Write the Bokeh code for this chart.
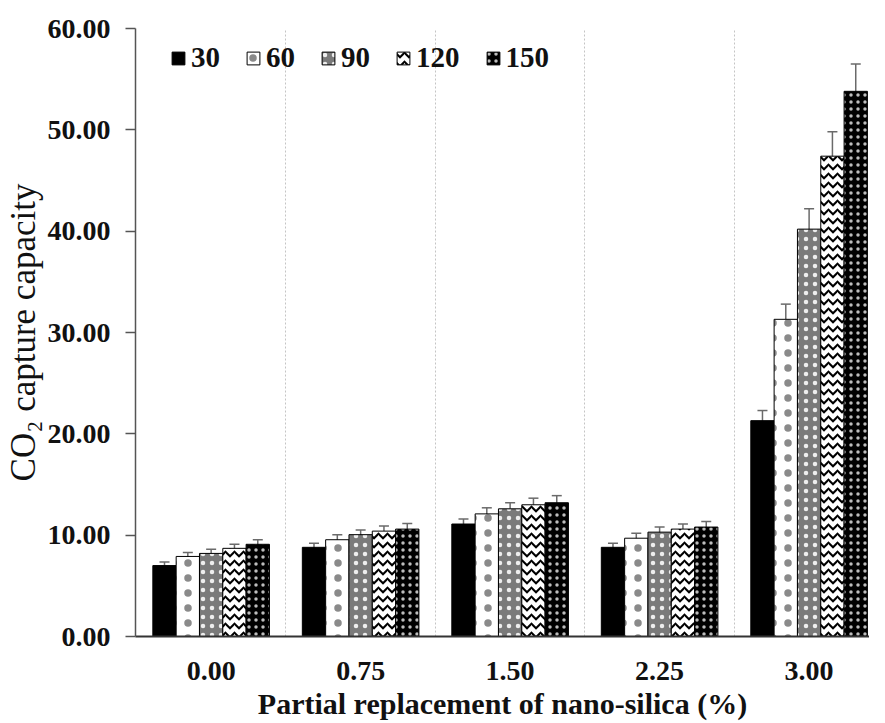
from bokeh.plotting import figure
from bokeh.models import (Range1d, FixedTicker, NumeralTickFormatter, ColumnDataSource,
                          Whisker, Legend, LegendItem, TeeHead)
from bokeh.transform import dodge
from bokeh.embed import file_html
from bokeh.resources import INLINE

# ---- data ----
groups = ["0.00", "0.75", "1.50", "2.25", "3.00"]
series = ["30", "60", "90", "120", "150"]
v30 = [7.0, 8.8, 11.1, 8.8, 21.3]
v60 = [7.9, 9.55, 12.1, 9.7, 31.3]
v90 = [8.2, 10.05, 12.6, 10.3, 40.2]
v120 = [8.7, 10.4, 13.0, 10.6, 47.4]
v150 = [9.1, 10.6, 13.2, 10.8, 53.8]
e30 = [0.35, 0.4, 0.5, 0.4, 1.0]
e60 = [0.4, 0.5, 0.6, 0.5, 1.5]
e90 = [0.4, 0.45, 0.6, 0.5, 2.0]
e120 = [0.4, 0.5, 0.65, 0.5, 2.4]
e150 = [0.45, 0.55, 0.7, 0.55, 2.7]
y_ticks = [0, 10, 20, 30, 40, 50, 60]

values = [v30, v60, v90, v120, v150]
errors = [e30, e60, e90, e120, e150]

# styles: fill, hatch pattern, hatch colour, hatch scale, hatch weight
styles = [
    dict(fill_color="black", hatch_pattern=" ", hatch_color="black", hatch_scale=8, hatch_weight=1),
    dict(fill_color="white", hatch_pattern="dot", hatch_color="#8a8a8a", hatch_scale=15, hatch_weight=1.2),
    dict(fill_color="#7a7a7a", hatch_pattern="dot", hatch_color="#eeeeee", hatch_scale=9, hatch_weight=2),
    dict(fill_color="white", hatch_pattern="horizontal_wave", hatch_color="black", hatch_scale=9, hatch_weight=2),
    dict(fill_color="black", hatch_pattern="dot", hatch_color="#bdbdbd", hatch_scale=7, hatch_weight=1.8),
]

bar_w = 0.156
offsets = [-2 * bar_w, -bar_w, 0.0, bar_w, 2 * bar_w]

p = figure(width=869, height=723, output_backend="svg", toolbar_location=None,
           x_range=Range1d(-0.506, 4.404), y_range=Range1d(0, 60),
           min_border_left=131, min_border_right=0, min_border_top=28, min_border_bottom=87)
p.outline_line_color = None
p.background_fill_color = "white"

FONT = "Liberation Serif"

items = []
for name, vals, errs, off, st in zip(series, values, errors, offsets, styles):
    src = ColumnDataSource(dict(
        x=list(range(len(groups))), top=vals,
        upper=[v + e for v, e in zip(vals, errs)],
        lower=[v - e for v, e in zip(vals, errs)]))
    r = p.vbar(x=dodge("x", off, range=p.x_range), top="top", bottom=0, width=bar_w,
               source=src, line_color="black", line_width=1, **st)
    items.append(LegendItem(label=name, renderers=[r]))
    w = Whisker(source=src, base=dodge("x", off, range=p.x_range), upper="upper", lower="lower",
                line_color="#6a6a6a", line_width=1.5,
                upper_head=TeeHead(size=10, line_color="#6a6a6a", line_width=1.5),
                lower_head=TeeHead(size=10, line_color="#6a6a6a", line_width=1.5))
    p.add_layout(w)

legend = Legend(items=items, orientation="horizontal", location=(35, 562),
                label_text_font=FONT, label_text_font_style="bold", label_text_font_size="29px",
                label_text_color="#111111", glyph_width=16, glyph_height=16,
                label_standoff=5, spacing=25, padding=0, margin=0,
                border_line_color=None, background_fill_alpha=0)
p.add_layout(legend)

# grids
p.ygrid.visible = False
p.xgrid.ticker = FixedTicker(ticks=[0.5, 1.5, 2.5, 3.5])
p.xgrid.grid_line_color = "#c4c4c4"
p.xgrid.grid_line_dash = "2 2"
p.xgrid.grid_line_width = 1

# x axis
xa = p.xaxis[0]
xa.ticker = FixedTicker(ticks=list(range(len(groups))))
xa.major_label_overrides = {i: g for i, g in enumerate(groups)}
xa.major_tick_line_color = None
xa.minor_tick_line_color = None
xa.axis_line_color = "#333333"
xa.axis_line_width = 2
xa.major_label_standoff = 19
xa.major_label_text_font = FONT
xa.major_label_text_font_style = "bold"
xa.major_label_text_font_size = "28px"
xa.major_label_text_color = "#111111"
xa.axis_label = "Partial replacement of nano-silica (%)"
xa.axis_label_text_font = FONT
xa.axis_label_text_font_style = "bold"
xa.axis_label_text_font_size = "30px"
xa.axis_label_text_color = "#111111"
xa.axis_label_standoff = 4

# y axis
ya = p.yaxis[0]
ya.ticker = FixedTicker(ticks=y_ticks)
ya.formatter = NumeralTickFormatter(format="0.00")
ya.minor_tick_line_color = None
ya.major_tick_in = 0
ya.major_tick_out = 10
ya.major_tick_line_color = "#555555"
ya.major_tick_line_width = 1.5
ya.axis_line_color = "#555555"
ya.axis_line_width = 1.5
ya.major_label_standoff = 15
ya.major_label_text_font = FONT
ya.major_label_text_font_style = "bold"
ya.major_label_text_font_size = "28px"
ya.major_label_text_color = "#111111"
ya.axis_label = "CO\u2082 capture capacity"
ya.axis_label_text_font = FONT
ya.axis_label_text_font_style = "normal"
ya.axis_label_text_font_size = "35px"
ya.axis_label_text_color = "#111111"
ya.axis_label_standoff = 2

open("out.html", "w").write(file_html(p, INLINE))
